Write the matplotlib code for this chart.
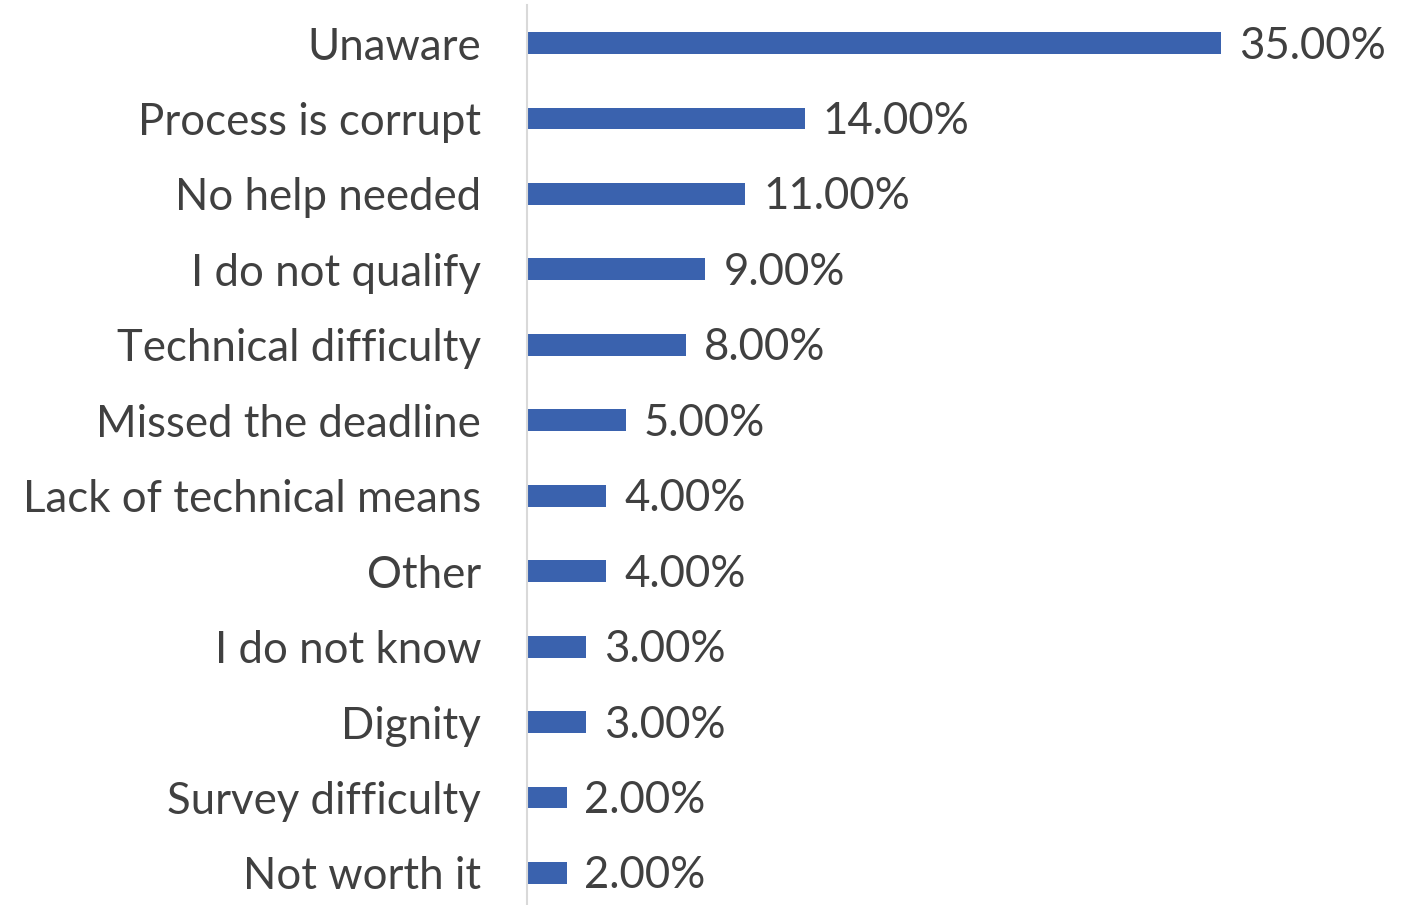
import matplotlib.pyplot as plt

categories = ["Unaware", "Process is corrupt", "No help needed", "I do not qualify",
              "Technical difficulty", "Missed the deadline", "Lack of technical means",
              "Other", "I do not know", "Dignity", "Survey difficulty", "Not worth it"]
values = [35, 14, 11, 9, 8, 5, 4, 4, 3, 3, 2, 2]

text_color = "#404040"
bar_color = "#3A62AE"

fig = plt.figure(figsize=(14.08, 9.05), dpi=100)
ax = fig.add_axes([527 / 1408, -5.7 / 905, 793 / 1408, 905.4 / 905])

y = list(range(len(categories)))
ax.barh(y, values, height=0.29, color=bar_color)
ax.set_ylim(len(categories) - 0.5, -0.5)
ax.set_xlim(0, 40)

ax.set_yticks(y)
ax.set_yticklabels(categories, fontsize=31.5, color=text_color, family="Lato")
ax.tick_params(axis="y", length=0, pad=33)
ax.set_xticks([])

for i, v in enumerate(values):
    ax.text(v + 0.9, i + 0.04, f"{v:.2f}%", va="center", ha="left",
            fontsize=31.5, color=text_color, family="Lato")

for s in ["top", "right", "bottom"]:
    ax.spines[s].set_visible(False)
ax.spines["left"].set_color("#D9D9D9")
ax.spines["left"].set_linewidth(1.5)

fig.savefig("out.png", dpi=100)
